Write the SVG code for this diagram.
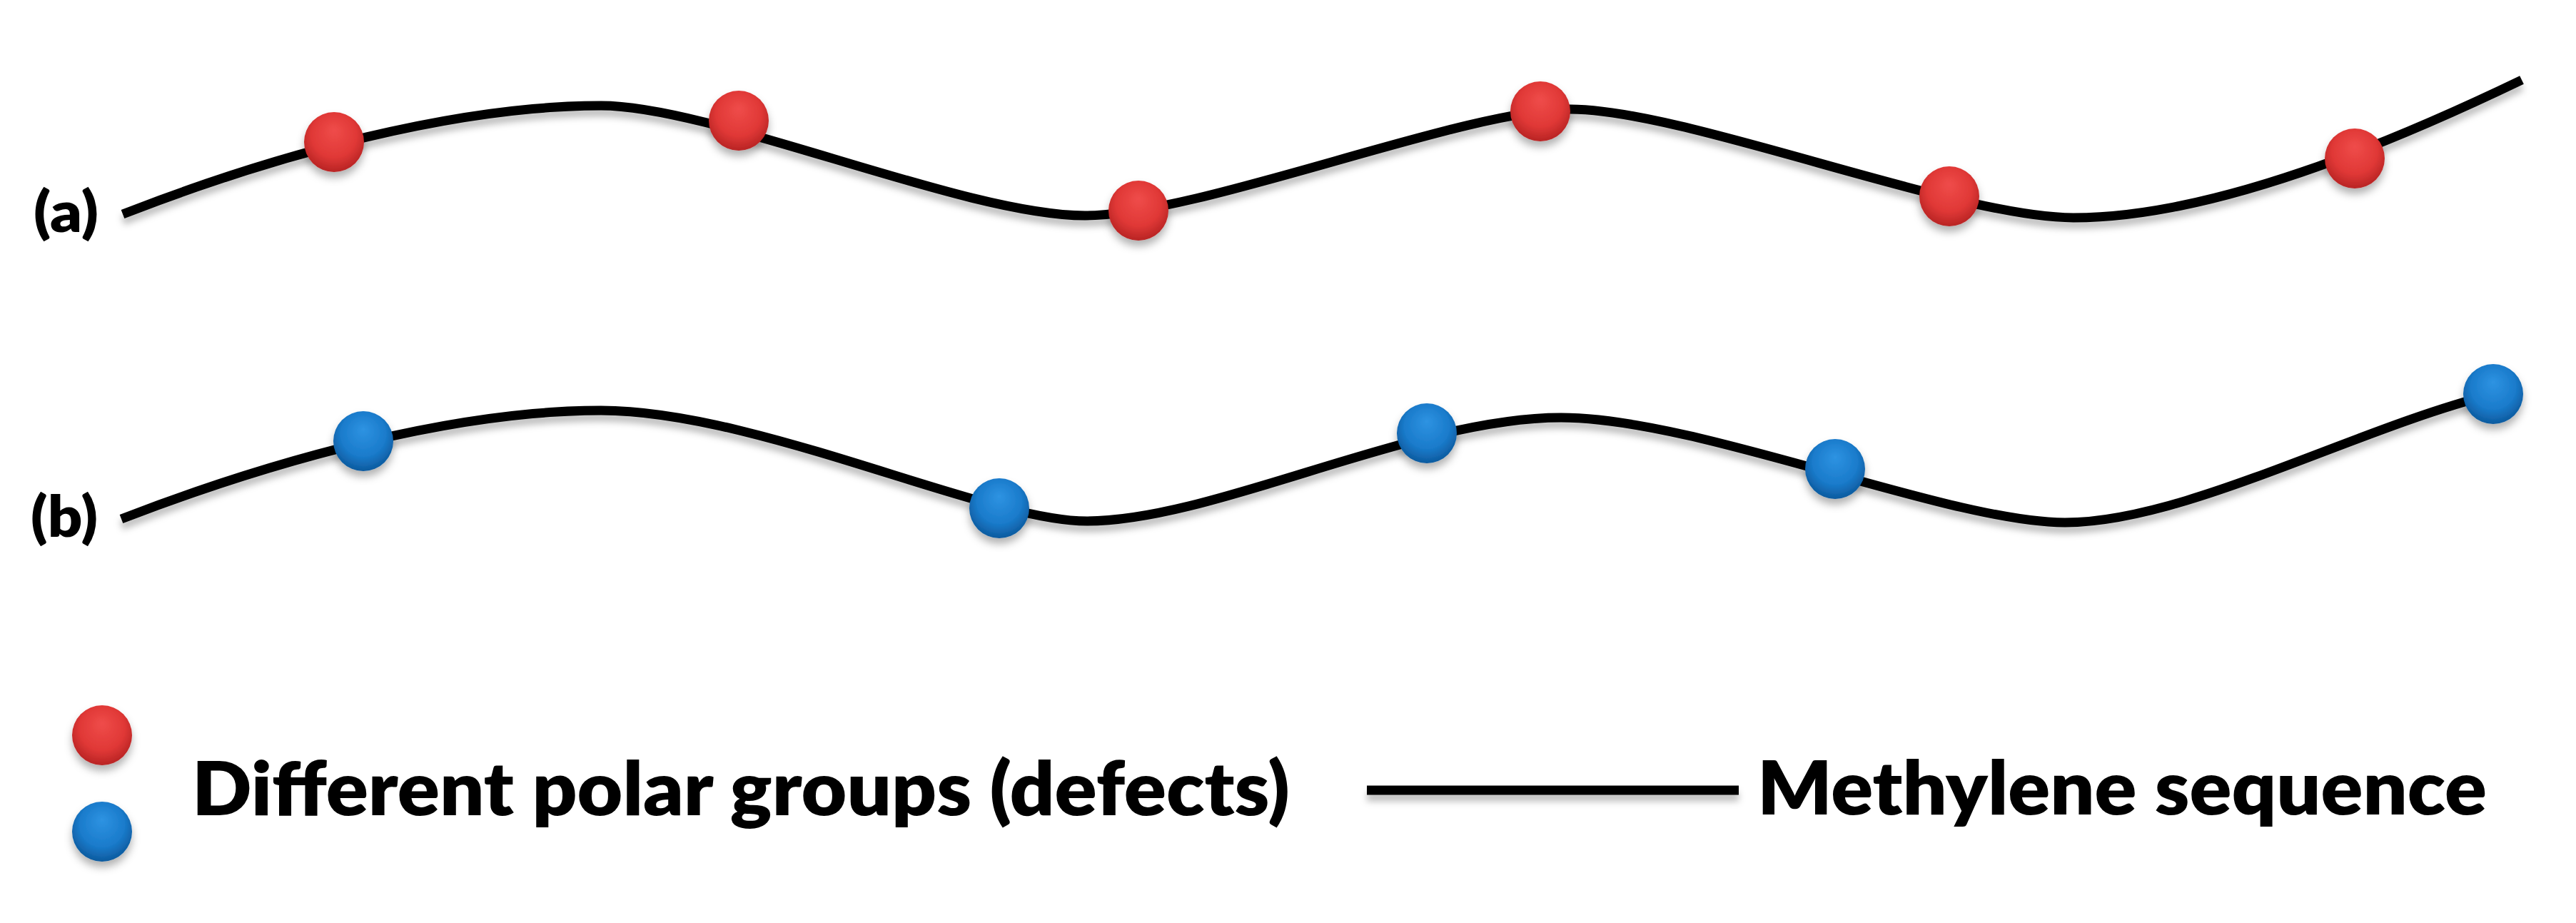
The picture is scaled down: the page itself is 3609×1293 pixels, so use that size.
<svg xmlns="http://www.w3.org/2000/svg" width="3609" height="1293" viewBox="0 0 3609 1293">
  <defs>
    <radialGradient id="gRed" cx="50%" cy="42%" r="58%" fx="50%" fy="30%">
      <stop offset="0" stop-color="#ef4c4a"/>
      <stop offset="0.65" stop-color="#e03836"/>
      <stop offset="1" stop-color="#b82424"/>
    </radialGradient>
    <radialGradient id="gBlue" cx="50%" cy="42%" r="58%" fx="50%" fy="30%">
      <stop offset="0" stop-color="#2e93e2"/>
      <stop offset="0.65" stop-color="#1a7bcb"/>
      <stop offset="1" stop-color="#0d5a9e"/>
    </radialGradient>
    <filter id="shadow" x="-20%" y="-40%" width="140%" height="200%">
      <feDropShadow dx="0" dy="8" stdDeviation="6" flood-color="#000" flood-opacity="0.3"/>
    </filter>
    <filter id="lineShadow" filterUnits="userSpaceOnUse" x="0" y="0" width="3609" height="1293">
      <feDropShadow dx="0" dy="9" stdDeviation="5" flood-color="#000" flood-opacity="0.25"/>
    </filter>
  </defs>
  <style>
    .chain { fill: none; stroke: #000; stroke-width: 13; stroke-linecap: butt; filter: url(#lineShadow); }
    .red { fill: url(#gRed); filter: url(#shadow); }
    .blue { fill: url(#gBlue); filter: url(#shadow); }
    .lbl { font-family: Lato, "Open Sans", "Liberation Sans", sans-serif; font-weight: 800; fill: #000; }
  </style>
  <rect width="3609" height="1293" fill="#fff"/>

  <g id="connectors">
    <path id="chain-a" class="chain" d="M172,300 C390,215 640,148 842,148 C1000,148 1350,302 1520,302 C1680,302 2050,153 2200,153 C2360,153 2740,305 2905,305 C3100,305 3350,200 3533,112"/>
    <path id="chain-b" class="chain" d="M170,727 C390,642 640,575 842,575 C1060,575 1380,730 1523,730 C1700,730 1980,585 2187,585 C2380,585 2730,732 2893,732 C3060,732 3300,600 3493,552"/>
  </g>

  <g id="label-a"><text class="lbl" x="47" y="325" font-size="80" textLength="91" lengthAdjust="spacingAndGlyphs">(a)</text></g>
  <g id="label-b"><text class="lbl" x="43" y="752" font-size="80" textLength="94" lengthAdjust="spacingAndGlyphs">(b)</text></g>

  <g id="red-1"><circle class="red" cx="468" cy="199" r="42"/></g>
  <g id="red-2"><circle class="red" cx="1035" cy="169" r="42"/></g>
  <g id="red-3"><circle class="red" cx="1595" cy="295" r="42"/></g>
  <g id="red-4"><circle class="red" cx="2158" cy="156" r="42"/></g>
  <g id="red-5"><circle class="red" cx="2731" cy="275" r="42"/></g>
  <g id="red-6"><circle class="red" cx="3299" cy="222" r="42"/></g>

  <g id="blue-1"><circle class="blue" cx="509" cy="618" r="42"/></g>
  <g id="blue-2"><circle class="blue" cx="1400" cy="712" r="42"/></g>
  <g id="blue-3"><circle class="blue" cx="1999" cy="607" r="42"/></g>
  <g id="blue-4"><circle class="blue" cx="2571" cy="657" r="42"/></g>
  <g id="blue-5"><circle class="blue" cx="3493" cy="552" r="42"/></g>

  <g id="legend">
    <circle class="red" cx="143" cy="1030" r="42"/>
    <circle class="blue" cx="143" cy="1165" r="42"/>
    <text class="lbl" x="269" y="1142" font-size="104" textLength="1538" lengthAdjust="spacingAndGlyphs">Different polar groups (defects)</text>
    <path class="chain" d="M1915,1107 L2436,1107" stroke-width="14"/>
    <text class="lbl" x="2462" y="1141" font-size="104" textLength="1022" lengthAdjust="spacingAndGlyphs">Methylene sequence</text>
  </g>
</svg>
